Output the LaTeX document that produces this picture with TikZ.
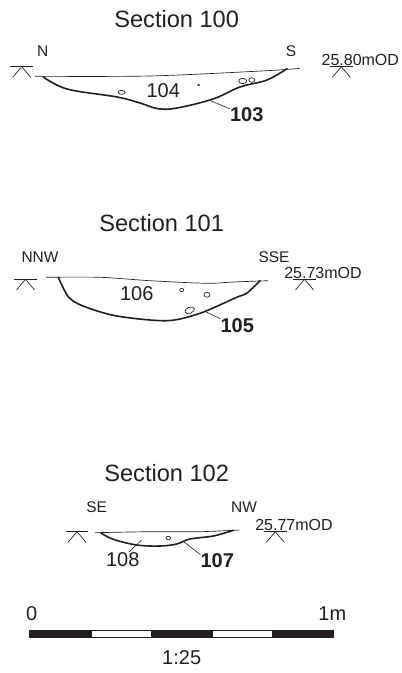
\documentclass[tikz,border=0pt]{standalone}
\usepackage{fontspec}
\setmainfont{Liberation Sans}
\definecolor{inkblack}{HTML}{231F20}
\tikzset{
  ground/.style={color=inkblack,line width=0.5pt},
  cut/.style={color=inkblack,line width=1.2pt,line cap=round},
  leader/.style={color=inkblack,line width=0.45pt},
  stone/.style={color=inkblack,line width=0.5pt},
  titletext/.style={text=inkblack,inner sep=0pt,font=\fontsize{17.7}{20}\selectfont},
  compasstext/.style={text=inkblack,inner sep=0pt,font=\fontsize{11.6}{14}\selectfont},
  leveltext/.style={text=inkblack,inner sep=0pt,font=\fontsize{12}{14}\selectfont},
  contexttext/.style={text=inkblack,inner sep=0pt,font=\fontsize{15}{18}\selectfont},
  cuttext/.style={text=inkblack,inner sep=0pt,font=\fontsize{15}{18}\selectfont\bfseries},
  datum/.pic={
    \draw [ground] (-11.3,0) -- (11.3,0);
    \draw [ground] (-9,-10.6) -- (0,0) -- (9,-10.6);
  }
}
\begin{document}
\begin{tikzpicture}[x=0.75pt,y=0.75pt,yscale=-1,xscale=1]
  \useasboundingbox (0,0) rectangle (401,673);

  % Section 100
  \node [titletext] (title100) at (176.7,19) {Section 100};
  \node [compasstext] (n100) at (42.7,51) {N};
  \node [compasstext] (s100) at (291,51) {S};
  \node [leveltext] (level100) at (360.3,60) {25.80mOD};
  \pic at (21.7,66.7) {datum};
  \pic at (341.3,66.7) {datum};
  \draw [ground] plot [smooth] coordinates {(35,76.3) (150,76) (267,70.7) (300,68.3)};
  \draw [cut] plot [smooth,tension=0.6] coordinates {(43,76.7) (67,89) (117,97) (140,103) (158,108.7) (177,108) (213,99) (240,87) (267,80) (287,68.7)};
  \draw [stone] (121.7,92.3) ellipse [x radius=3.5,y radius=2];
  \draw [stone] (242.7,81) ellipse [x radius=4,y radius=2.7];
  \draw [stone] (251.7,80) ellipse [x radius=3,y radius=2.3];
  \fill [inkblack] (198.7,85) ellipse [x radius=1.5,y radius=1];
  \node [contexttext] (fill104) at (163.3,91) {104};
  \node [cuttext] (cut103) at (246.7,115) {103};
  \coordinate (foot103) at (210.7,100.7);
  \draw [leader] (foot103) -- (cut103.160);

  % Section 101
  \node [titletext] (title101) at (161.7,223) {Section 101};
  \node [compasstext] (nnw101) at (40,256.7) {NNW};
  \node [compasstext] (sse101) at (274,256.7) {SSE};
  \node [leveltext] (level101) at (323,273) {25.73mOD};
  \pic at (25.5,279.3) {datum};
  \pic at (304.5,279.3) {datum};
  \draw [ground] plot [smooth] coordinates {(46,277.3) (100,277.3) (150,280.7) (206.7,283.3) (233,282) (268,280.7)};
  \draw [cut] plot [smooth,tension=0.5] coordinates {(58.3,277.3) (68.3,296.7) (83,306) (116.7,316) (166.7,320.7) (200,313.3) (236.7,297.3) (246.7,293.3) (260,280.7)};
  \draw [stone] (181.7,290) ellipse [x radius=2,y radius=1.7];
  \draw [stone] (207,294.7) ellipse [x radius=3,y radius=2.5];
  \draw [stone,rotate around={-20:(189.7,310.3)}] (189.7,310.3) ellipse [x radius=5,y radius=3];
  \node [contexttext] (fill106) at (136.7,294) {106};
  \node [cuttext] (cut105) at (237.3,326) {105};
  \coordinate (foot105) at (206,312);
  \draw [leader] (foot105) -- (cut105.north west);

  % Section 102
  \node [titletext] (title102) at (166.7,473) {Section 102};
  \node [compasstext] (se102) at (96.7,507.3) {SE};
  \node [compasstext] (nw102) at (244,507.3) {NW};
  \node [leveltext] (level102) at (294,524.7) {25.77mOD};
  \pic at (77,531.7) {datum};
  \pic at (275.3,531.7) {datum};
  \draw [ground] plot [smooth] coordinates {(95,532.7) (150,531.7) (200,531.7) (239.3,530)};
  \draw [cut] plot [smooth,tension=0.6] coordinates {(101,533) (113.3,539.3) (136.7,545) (160,546) (176.7,544) (190,539) (213.3,536) (233.3,530.3)};
  \draw [stone] (168.3,538) ellipse [x radius=2.3,y radius=1.7];
  \node [contexttext] (fill108) at (122.7,559.3) {108};
  \node [cuttext] (cut107) at (217.3,560.7) {107};
  \coordinate (foot108) at (141.7,540);
  \coordinate (foot107) at (184,542);
  \draw [leader] (foot108) -- (fill108.50);
  \draw [leader] (foot107) -- (cut107.160);

  % Scale bar
  \node [contexttext] (zero) at (31.7,613.3) {0};
  \node [contexttext] (metre) at (332.3,613.3) {1m};
  \node [contexttext] (ratio) at (181.7,657.3) {1:25};
  \foreach \xa/\xb/\barfill in {29.3/91/inkblack,91/151/white,151/212/inkblack,212/272/white,272/333.3/inkblack}{
    \filldraw [draw=inkblack,line width=0.4pt,fill=\barfill] (\xa,630) rectangle (\xb,637.3);
  }
\end{tikzpicture}
\end{document}
